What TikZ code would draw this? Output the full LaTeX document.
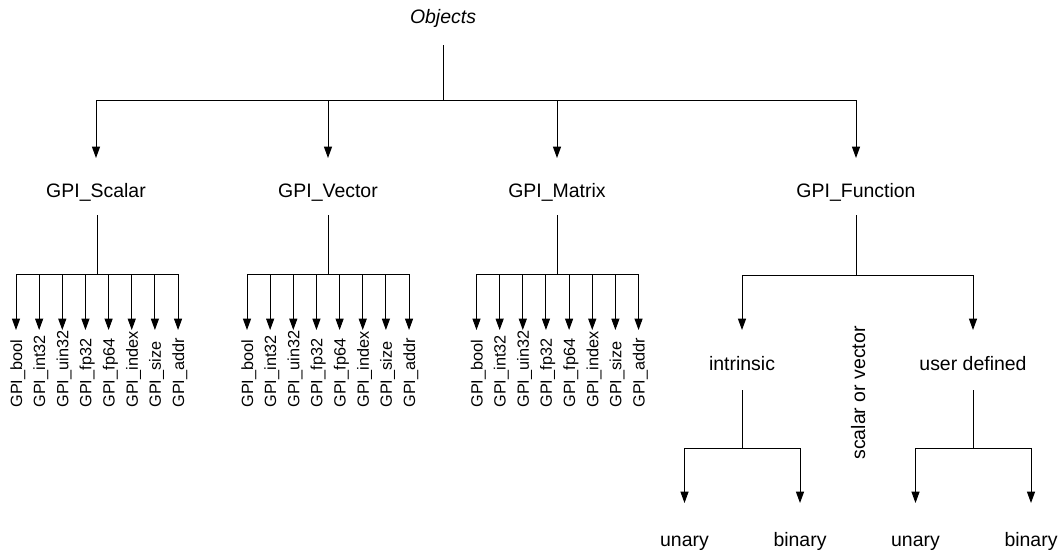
\documentclass[tikz,border=0pt]{standalone}
\usepackage{fontspec}
\setmainfont{Liberation Sans}
\usetikzlibrary{arrows.meta}
\begin{document}
\begin{tikzpicture}[x=0.75pt,y=-0.75pt,
  line width=0.75pt,
  lbl/.style={font=\fontsize{14.6}{17}\selectfont, inner sep=0, anchor=base},
  leaf/.style={font=\fontsize{12.2}{14}\selectfont, inner sep=0, rotate=90, anchor=base west},
  arr/.style={-{Triangle[width=6pt,length=8.5pt]}}]
\useasboundingbox (0,0) rectangle (1060,550);

% root
\node[lbl, font=\fontsize{14.6}{17}\selectfont\itshape] (objects) at (443,23) {Objects};
\coordinate (r0) at (443,45);
\coordinate (r1) at (443,100);
\draw (r0) -- (r1);

% first level
\foreach \name/\x/\txt in {scalar/96/GPI\_Scalar, vector/328/GPI\_Vector,
                           matrix/557/GPI\_Matrix, function/856/GPI\_Function}{
  \coordinate (\name-in) at (\x,158);
  \draw[arr] (r1) -| (\name-in);
  \node[lbl] (\name) at (\x,197) {\txt};
}

% scalar, vector and matrix type lists
\foreach \name/\x in {scalar/97, vector/328, matrix/557.5}{
  \coordinate (\name-out) at (\x,215);
  \coordinate (\name-j) at (\x,274);
  \draw (\name-out) -- (\name-j);
  \foreach \t [count=\i from 0] in {bool,int32,uin32,fp32,fp64,index,size,addr}{
    \pgfmathsetmacro{\lx}{\x-81+23.15*\i}
    \coordinate (\name-\t-in) at (\lx,330);
    \draw[arr] (\name-j) -| (\name-\t-in);
    \node[leaf] (\name-\t) at (\lx+6,408) {GPI\_\t};
  }
}

% function subtree
\coordinate (function-out) at (856,215);
\coordinate (function-j) at (856,275);
\draw (function-out) -- (function-j);
\coordinate (intrinsic-in) at (742,330);
\coordinate (user-in) at (973,330);
\draw[arr] (function-j) -| (intrinsic-in);
\draw[arr] (function-j) -| (user-in);
\node[lbl] (intrinsic) at (742,370) {intrinsic};
\node[lbl] (user) at (973,370) {user defined};
\node[lbl, rotate=90, anchor=base west] (sv) at (865,460) {scalar or vector};

\foreach \name/\x in {intrinsic/742, user/973}{
  \coordinate (\name-out) at (\x,390);
  \coordinate (\name-j) at (\x,448);
  \draw (\name-out) -- (\name-j);
  \coordinate (\name-u-in) at (\x-57.5,503);
  \coordinate (\name-b-in) at (\x+58,503);
  \draw[arr] (\name-j) -| (\name-u-in);
  \draw[arr] (\name-j) -| (\name-b-in);
  \node[lbl] (\name-unary) at (\x-57.5,546) {unary};
  \node[lbl] (\name-binary) at (\x+58,546) {binary};
}
\end{tikzpicture}
\end{document}
